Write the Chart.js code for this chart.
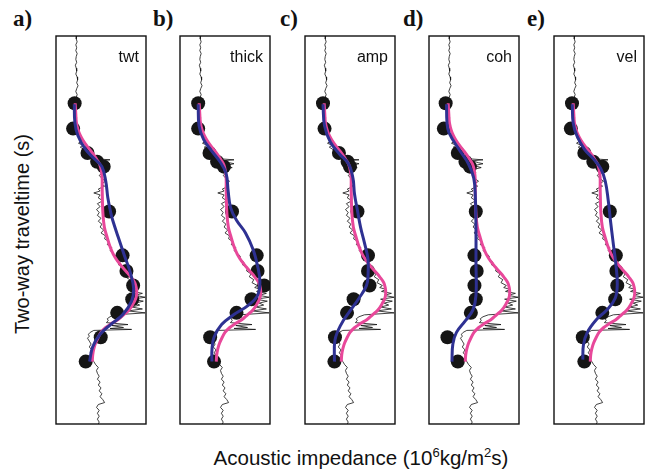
<!DOCTYPE html>
<html>
<head>
<meta charset="utf-8">
<script src="https://cdn.jsdelivr.net/npm/chart.js@4.4.1/dist/chart.umd.min.js"></script>
<style>
  body { margin: 0; background: #fff; }
  #fig { position: relative; width: 654px; height: 476px; overflow: hidden; font-family: "Liberation Sans", Arial, sans-serif; color: #111; }
  #fig canvas { position: absolute; }
  .letter { position: absolute; font: bold 23px "Liberation Serif", "Times New Roman", serif; line-height: 23px; }
  #ytitle { position: absolute; left: 22px; top: 234px; font-size: 20px; white-space: nowrap; transform: translate(-50%, -50%) rotate(-90deg); }
  #xtitle { position: absolute; left: 361px; top: 446px; font-size: 20.5px; line-height: 24px; white-space: nowrap; transform: translateX(-50%); }
  #xtitle sup { font-size: 13px; vertical-align: 8px; line-height: 0; }
</style>
</head>
<body>
<div id="fig">
  <div id="ytitle">Two-way traveltime (s)</div>
  <div id="xtitle">Acoustic impedance (10<sup>6</sup>kg/m<sup>2</sup>s)</div>
</div>
<script>
// panel names and letters
const panelNames = ['twt', 'thick', 'amp', 'coh', 'vel'];
const panelLetters = ['a)', 'b)', 'c)', 'd)', 'e)'];

// well log (time in ms, impedance in 10^6 kg/m2s)
const logTime = [
  0, 3, 6, 9, 12, 15, 18, 21, 24, 27,
  30, 33, 36, 39, 42, 45, 48, 51, 54, 57,
  60, 63, 66, 69, 72, 76, 80, 84, 88, 92,
  96, 100, 104, 108, 110, 112, 114, 117, 120, 122,
  124, 126, 127, 128, 130, 131, 133, 135, 137, 140,
  143, 146, 149, 152, 154, 157, 159, 161, 163, 166,
  169, 172, 175, 178, 181, 184, 187, 190, 193, 196,
  199, 202, 205, 208, 211, 214, 217, 220, 223, 226,
  229, 232, 235, 238, 241, 244, 247, 250, 253, 256,
  258, 260, 262, 264, 266, 268, 270, 272, 274, 276,
  278, 280, 282, 284, 286, 288, 290, 292, 294, 296,
  297, 299, 300, 301, 302, 304, 306, 308, 310, 313,
  316, 319, 322, 325, 328, 331, 334, 337, 340, 343,
  346, 349, 352, 355, 358, 361, 364, 367, 370, 373,
  376, 378, 381, 384, 387, 390, 393, 396, 398
];
const logImp = [
  2.3, 2.25, 2.35, 2.2, 2.3, 2.2, 2.35, 2.25, 2.2, 2.3,
  2.15, 2.25, 2.3, 2.2, 2.35, 2.4, 2.3, 2.45, 2.3, 2.2,
  2.35, 2.25, 2.15, 2.2, 2.1, 2.25, 2.15, 2.3, 2.2, 2.4,
  2.3, 2.6, 2.5, 2.8, 2.5, 3.0, 2.7, 3.2, 3.6, 3.3,
  4.0, 4.5, 6.0, 4.8, 5.5, 6.0, 5.0, 5.8, 4.9, 5.2,
  4.8, 5.1, 5.5, 5.0, 5.4, 4.7, 4.9, 4.2, 4.9, 4.7,
  5.2, 4.6, 4.9, 4.5, 4.8, 4.6, 5.0, 4.7, 5.1, 4.9,
  5.3, 5.0, 5.5, 5.4, 5.9, 5.7, 6.2, 6.0, 6.4, 6.7,
  6.6, 7.1, 7.0, 7.5, 7.4, 7.9, 7.7, 8.2, 8.0, 8.6,
  8.3, 9.0, 8.5, 9.6, 8.8, 9.9, 8.4, 9.7, 8.8, 9.3,
  8.4, 9.6, 8.0, 9.9, 6.6, 6.0, 5.7, 5.8, 5.6, 8.0,
  6.2, 7.5, 6.0, 8.4, 4.2, 3.8, 3.6, 3.7, 3.5, 3.7,
  3.9, 3.7, 4.0, 3.8, 4.1, 4.0, 4.2, 4.4, 4.7, 4.5,
  4.6, 4.8, 4.6, 4.9, 4.7, 5.0, 4.8, 5.1, 4.9, 5.2,
  5.4, 4.7, 4.5, 4.8, 4.6, 4.8, 4.6, 4.8, 4.7
];

// smoothed true impedance (pink), same in every panel
const trueTime = [69, 80, 89, 96, 102, 107, 112, 117, 122, 127, 132, 139, 146, 155, 165, 180, 196, 207, 216, 224,
  231, 237, 242, 247, 253, 259, 264, 269, 275, 281, 286, 291, 295, 299, 304, 309, 315, 321, 327, 334];
const trueImp = [2.13, 2.2, 2.27, 2.45, 2.7, 3.0, 3.37, 3.8, 4.2, 4.55, 4.87, 5.05, 5.13, 5.13, 5.15, 5.2, 5.37, 5.7, 6.0, 6.37,
  6.85, 7.37, 7.85, 8.3, 8.75, 8.93, 8.97, 8.87, 8.55, 8.1, 7.5, 6.87, 6.15, 5.53, 5.0, 4.7, 4.4, 4.2, 4.08, 4.03];

// control points (black dots)
const ctrlTime = [69, 95, 120, 129, 134, 180, 225, 241, 256, 270, 284, 309, 334];
const ctrlTwt = [2.07, 1.9, 3.5, 4.57, 5.3, 5.9, 7.4, 7.83, 8.57, 8.47, 6.8, 4.97, 3.3];
const ctrlThick = [2.02, 2.02, 3.28, 4.12, 4.88, 5.78, 8.52, 8.62, 9.35, 7.95, 6.28, 3.35, 3.78];
const ctrlAmp = [2.0, 2.17, 3.77, 4.73, 5.0, 5.83, 7.0, 7.0, 7.17, 5.4, 4.67, 3.33, 3.27];
const ctrlCoh = [1.85, 1.65, 3.2, 4.05, 4.55, 5.2, 5.05, 5.3, 5.05, 5.2, 4.65, 2.05, 3.2];
const ctrlVel = [2.0, 1.87, 3.37, 4.37, 5.37, 6.2, 6.87, 6.93, 7.03, 6.8, 5.37, 3.2, 3.37];

// estimated impedance (blue) for each attribute
const estTwtTime = [70, 89, 102, 116, 126, 134, 149, 166, 182, 189, 206, 226, 242, 259, 272, 286, 296, 306, 319, 334];
const estTwtImp = [2.03, 2.1, 2.43, 3.26, 4.26, 5.1, 5.53, 5.76, 6.1, 6.3, 6.9, 7.63, 8.23, 8.63, 8.4, 7.4, 6.07, 4.9, 4.07, 3.73];
const estThickTime = [70, 92, 106, 117, 129, 141, 159, 176, 189, 202, 219, 236, 252, 266, 276, 286, 296, 309, 322, 334];
const estThickImp = [2.02, 2.12, 2.62, 3.45, 4.45, 5.12, 5.35, 5.62, 6.28, 7.28, 8.12, 8.62, 8.88, 8.62, 7.62, 5.95, 4.62, 3.78, 3.55, 3.55];
const estAmpTime = [70, 92, 109, 121, 131, 146, 162, 179, 196, 212, 229, 246, 256, 269, 282, 296, 312, 334];
const estAmpImp = [2.0, 2.17, 2.83, 3.83, 4.83, 5.33, 5.5, 5.83, 6.17, 6.6, 7.0, 7.0, 6.83, 6.0, 5.0, 4.0, 3.33, 3.27];
const estCohTime = [70, 89, 99, 117, 131, 146, 166, 199, 232, 266, 281, 292, 304, 316, 334];
const estCohImp = [1.95, 2.0, 2.22, 3.38, 4.38, 4.98, 5.15, 5.22, 5.22, 5.22, 4.88, 4.05, 3.05, 2.65, 2.55];
const estVelTime = [70, 89, 102, 116, 126, 136, 149, 169, 189, 214, 234, 254, 269, 281, 291, 304, 317, 332];
const estVelImp = [2.03, 2.13, 2.53, 3.37, 4.37, 5.2, 5.7, 6.03, 6.27, 6.6, 6.87, 7.03, 6.8, 5.87, 4.7, 3.7, 3.27, 3.2];

const ctrlImps = [ctrlTwt, ctrlThick, ctrlAmp, ctrlCoh, ctrlVel];
const estTimes = [estTwtTime, estThickTime, estAmpTime, estCohTime, estVelTime];
const estImps = [estTwtImp, estThickImp, estAmpImp, estCohImp, estVelImp];

const boxLeft = [51, 175, 300, 424, 549];
const letterLeft = [13, 153, 280, 403, 527];
const boxTop = 31, boxW = 100, boxH = 398, pad = 2;

function pts(imp, time) {
  return time.map((t, i) => ({ x: imp[i], y: t }));
}

// frame + attribute name inside the plot box
const framePlugin = {
  id: 'frame',
  afterDraw(chart) {
    const { ctx, chartArea: a } = chart;
    ctx.save();
    ctx.strokeStyle = '#111';
    ctx.lineWidth = 1.4;
    ctx.strokeRect(a.left, a.top, a.right - a.left, a.bottom - a.top);
    ctx.fillStyle = '#111';
    ctx.font = '16px "Liberation Sans", Arial, sans-serif';
    ctx.textAlign = 'right';
    ctx.textBaseline = 'alphabetic';
    ctx.fillText(chart.options.plugins.frame.name, a.right - 7, a.top + 26);
    ctx.restore();
  }
};

const fig = document.getElementById('fig');

panelNames.forEach((name, i) => {
  const letter = document.createElement('div');
  letter.className = 'letter';
  letter.textContent = panelLetters[i];
  letter.style.left = letterLeft[i] + 'px';
  letter.style.top = '7px';
  fig.appendChild(letter);

  const cv = document.createElement('canvas');
  cv.width = boxW + 2 * pad;
  cv.height = boxH + 2 * pad;
  cv.style.left = (boxLeft[i] - pad) + 'px';
  cv.style.top = (boxTop - pad) + 'px';
  fig.appendChild(cv);

  new Chart(cv.getContext('2d'), {
    type: 'line',
    data: {
      datasets: [
        {
          data: pts(estImps[i], estTimes[i]),
          borderColor: '#2e3192',
          borderWidth: 3,
          tension: 0.4,
          pointRadius: 0,
          order: 0
        },
        {
          data: pts(trueImp, trueTime),
          borderColor: '#e8489a',
          borderWidth: 3,
          tension: 0.4,
          pointRadius: 0,
          order: 1
        },
        {
          data: pts(ctrlImps[i], ctrlTime),
          showLine: false,
          pointRadius: 7,
          pointBackgroundColor: '#151515',
          pointBorderWidth: 0,
          order: 2
        },
        {
          data: pts(logImp, logTime),
          borderColor: '#111',
          borderWidth: 0.8,
          tension: 0,
          pointRadius: 0,
          order: 3
        }
      ]
    },
    options: {
      responsive: false,
      animation: false,
      indexAxis: 'y',
      layout: { padding: pad },
      plugins: {
        legend: { display: false },
        tooltip: { enabled: false },
        frame: { name: name }
      },
      scales: {
        x: { type: 'linear', min: 0, max: 10, display: false },
        y: { type: 'linear', min: 0, max: 398, reverse: true, display: false }
      }
    },
    plugins: [framePlugin]
  });
});
</script>
</body>
</html>
